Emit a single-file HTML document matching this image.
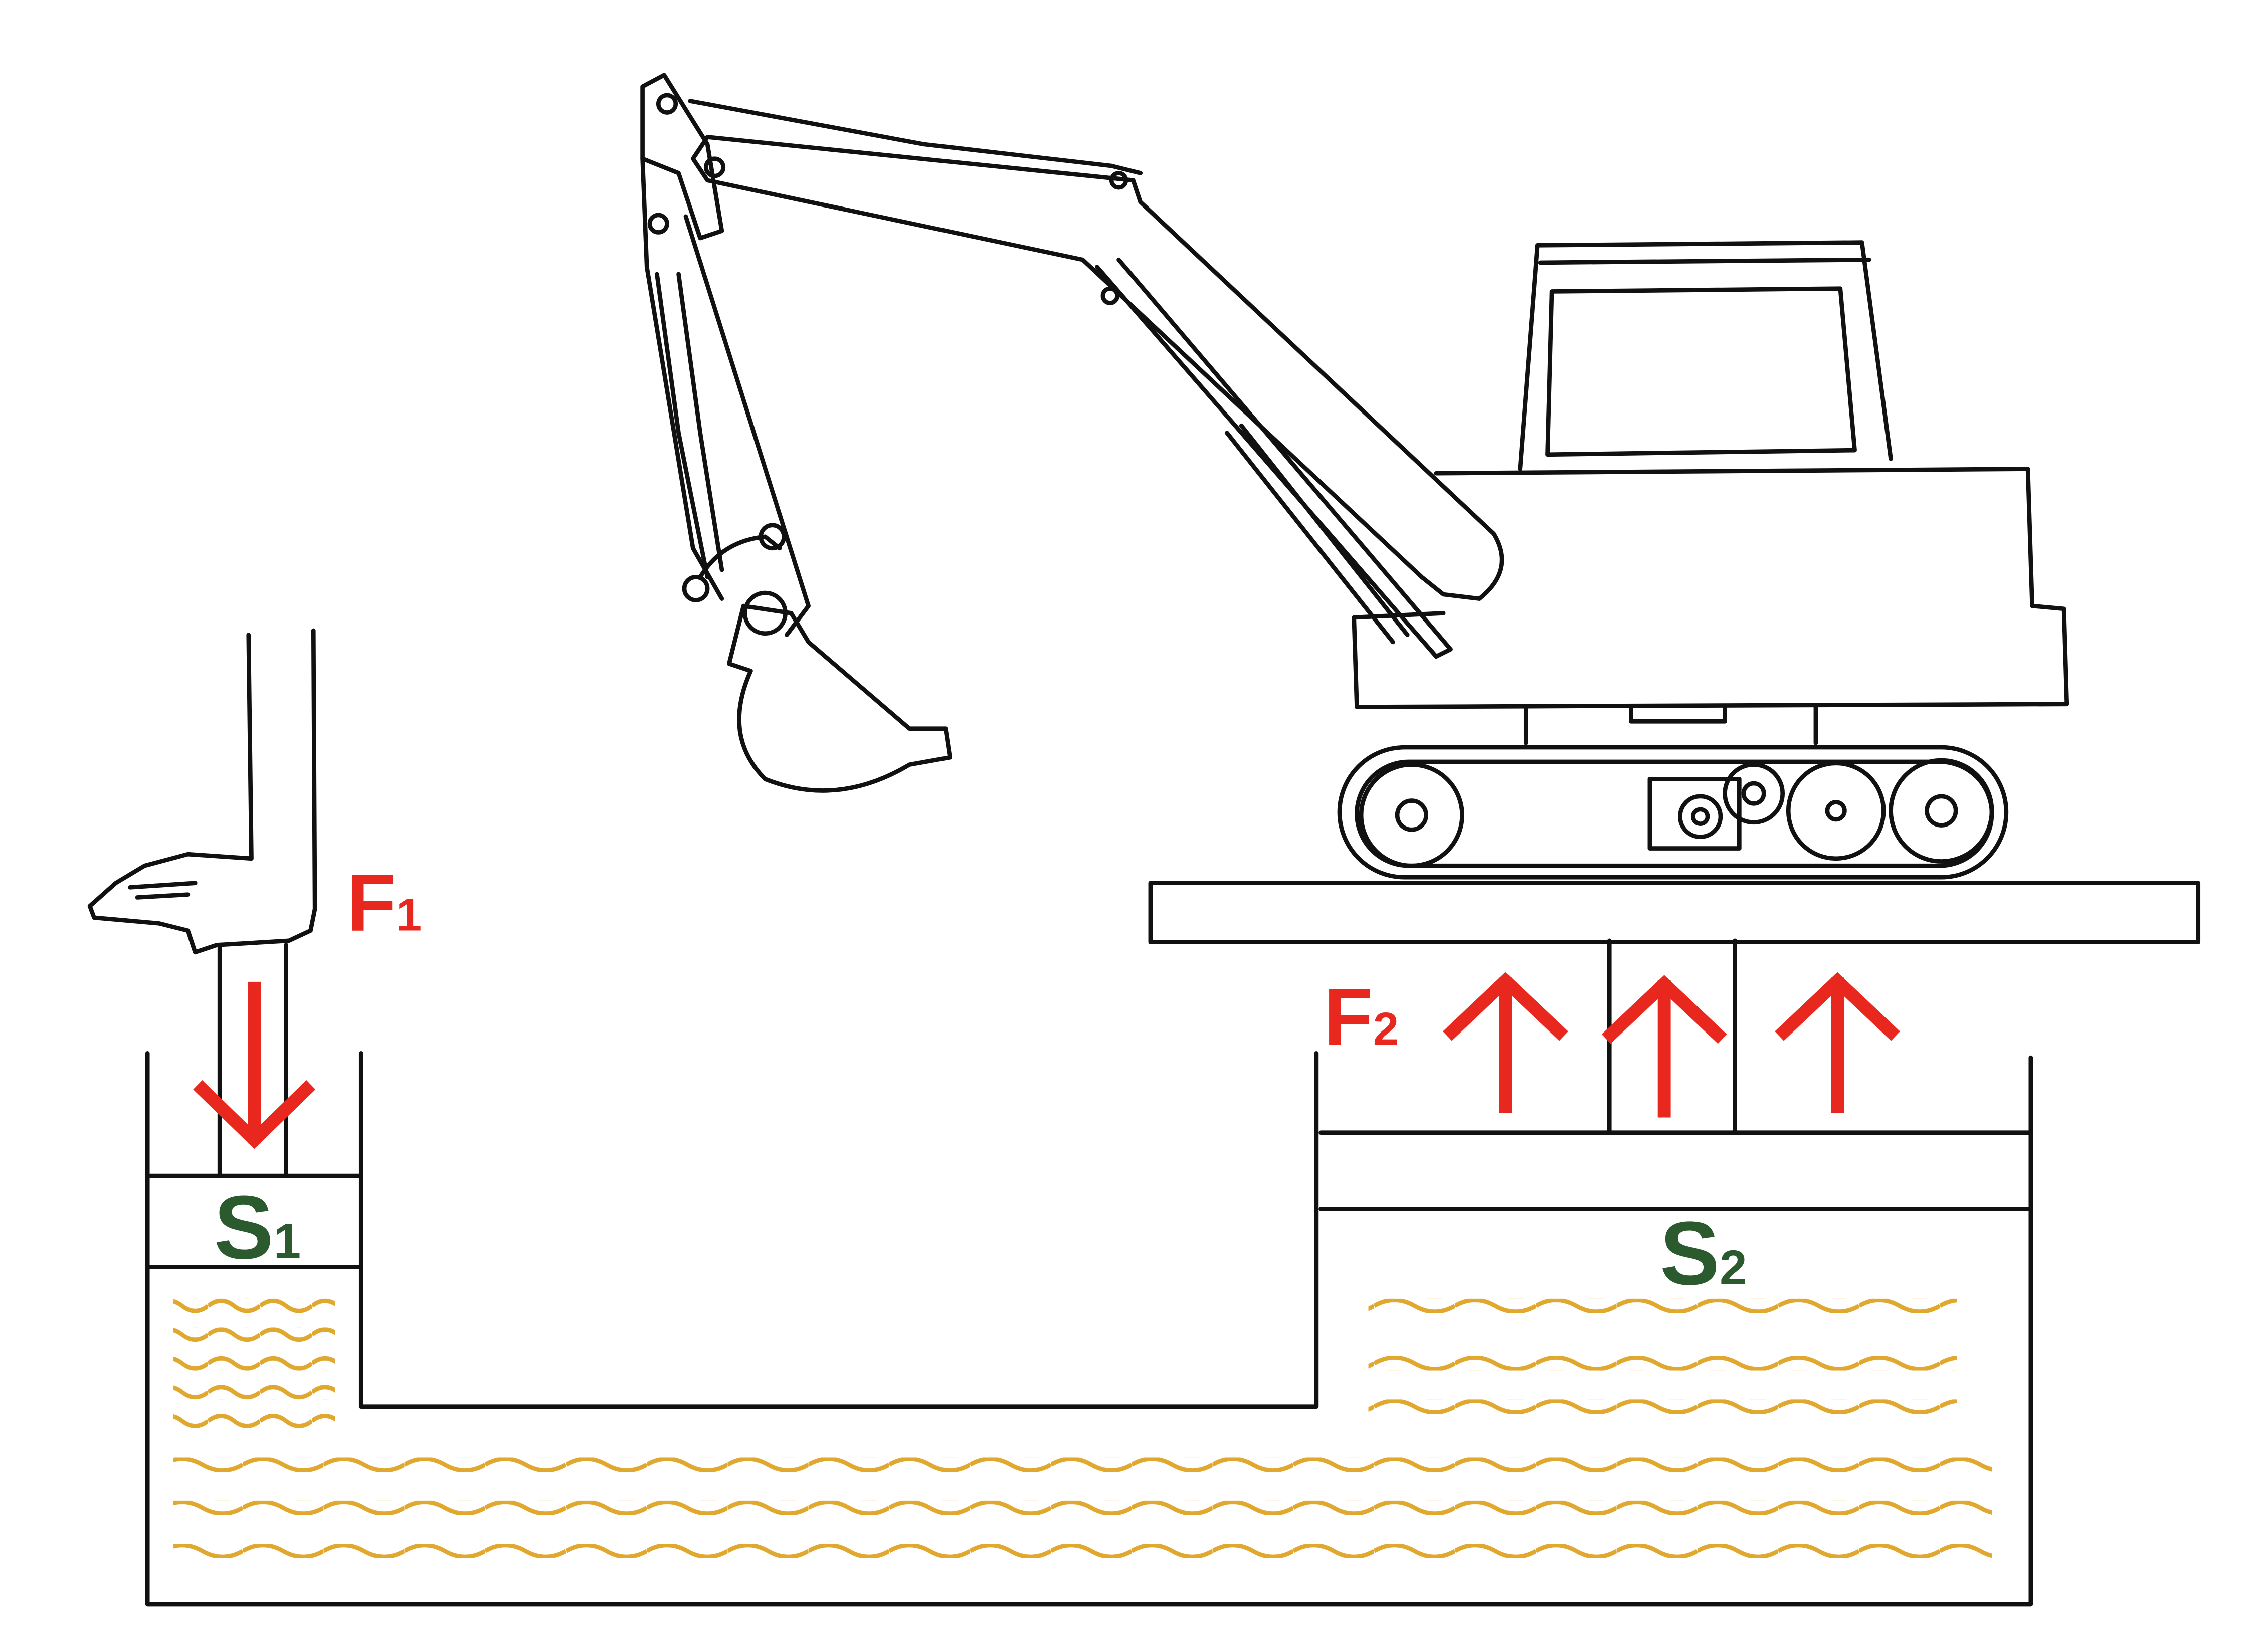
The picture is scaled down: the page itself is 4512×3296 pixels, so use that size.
<!DOCTYPE html>
<html><head><meta charset="utf-8"><style>
html,body{margin:0;padding:0;background:#fff;}
svg{display:block;}
text{font-family:"Liberation Sans",sans-serif;font-weight:bold;}
</style></head><body>
<svg width="4512" height="3296" viewBox="0 0 1567 1145" xmlns="http://www.w3.org/2000/svg">
<defs>
<pattern id="wv" x="0" y="0" width="56" height="10" patternUnits="userSpaceOnUse">
<path d="M0 5 Q14 -3 28 5 T56 5" fill="none" stroke="#e0a82e" stroke-width="3"/>
</pattern>
<pattern id="wvs" x="0" y="0" width="36" height="10" patternUnits="userSpaceOnUse">
<path d="M0 5 Q9 -2 18 5 T36 5" fill="none" stroke="#e0a82e" stroke-width="3"/>
</pattern>
</defs>
<rect width="1567" height="1145" fill="#fff"/>
<g fill="none" stroke="#111" stroke-width="3" stroke-linecap="round" stroke-linejoin="round">
<path d="M102 730 L102 1112 L1407 1112 L1407 733"/>
<path d="M250 730 L250 975 L912 975 L912 730"/>
<path d="M102 815 L250 815 M102 878 L250 878"/>
<path d="M152 655 L152 815 M198 655 L198 815"/>
<path d="M172 440 L174 595 L130 592 L100 600 L80 612 L62 628 L65 636 L110 640 L130 645 L135 660 L150 655 L200 652 L215 645 L218 630 L217 437"/>
<path d="M90 615 L135 612 M95 622 L130 620"/>
<path d="M915 785 L1407 785 M915 838 L1407 838"/>
<path d="M1115 652 L1115 785 M1202 652 L1202 785"/>
<rect x="797" y="612" width="726" height="41"/>
<path d="M1053 325 L1065 170 L1290 168 L1310 318"/>
<path d="M1067 182 L1295 180"/>
<path d="M1075 202 L1275 200 L1285 312 L1072 315 Z"/>
<path d="M995 328 L1405 325 L1408 420 L1430 422 L1432 488 L940 490 L938 428 L1000 425"/>
<path d="M1057 490 L1057 515 M1258 490 L1258 515 M1130 490 L1130 500 L1195 500 L1195 490"/>
<rect x="928" y="518" width="462" height="90" rx="45"/>
<rect x="940" y="528" width="440" height="72" rx="36"/>
<circle cx="978" cy="565" r="35"/><circle cx="978" cy="565" r="10"/>
<circle cx="1272" cy="562" r="33"/><circle cx="1272" cy="562" r="6"/>
<circle cx="1345" cy="562" r="35"/><circle cx="1345" cy="562" r="10"/>
<circle cx="1215" cy="550" r="20"/><circle cx="1215" cy="550" r="7"/>
<rect x="1143" y="540" width="62" height="48"/>
<circle cx="1178" cy="566" r="14"/><circle cx="1178" cy="566" r="5"/>
<path d="M1000 412 L1025 415 Q1050 395 1035 370 L790 140 L785 125 L490 95 L480 110 L490 125 L750 180 L985 400 Z"/>
<path d="M760 185 L995 455 L1005 450 L775 180"/>
<path d="M850 300 L965 445 M860 295 L975 440"/>
<circle cx="769" cy="205" r="5"/><circle cx="775" cy="125" r="5"/>
<path d="M478 70 L640 100 L770 115 L790 120"/>
<path d="M445 60 L460 52 L490 100 L500 160 L485 165 L470 120 L445 110 Z"/>
<path d="M445 110 L448 185 L480 380 L500 415 M475 150 L560 420 L545 440"/>
<path d="M455 190 L470 300 L490 400 M470 190 L485 300 L500 395"/>
<circle cx="462" cy="72" r="6"/><circle cx="495" cy="116" r="6"/><circle cx="456" cy="155" r="6"/>
<path d="M485 400 Q500 375 530 372 L540 380"/><circle cx="482" cy="408" r="8"/><circle cx="535" cy="372" r="8"/>
<path d="M515 420 L505 460 L520 465 Q500 510 530 540 Q580 560 630 530 L658 525 L655 505 L630 505 L560 445 L548 425 Z"/>
<circle cx="530" cy="425" r="14"/>
</g>
<rect x="120" y="900" width="112" height="10" fill="url(#wvs)"/>
<rect x="120" y="920" width="112" height="10" fill="url(#wvs)"/>
<rect x="120" y="940" width="112" height="10" fill="url(#wvs)"/>
<rect x="120" y="960" width="112" height="10" fill="url(#wvs)"/>
<rect x="120" y="980" width="112" height="10" fill="url(#wvs)"/>
<rect x="948" y="900" width="408" height="10" fill="url(#wv)"/>
<rect x="948" y="940" width="408" height="10" fill="url(#wv)"/>
<rect x="948" y="970" width="408" height="10" fill="url(#wv)"/>
<rect x="120" y="1010" width="1260" height="10" fill="url(#wv)"/>
<rect x="120" y="1040" width="1260" height="10" fill="url(#wv)"/>
<rect x="120" y="1070" width="1260" height="10" fill="url(#wv)"/>
<g fill="none" stroke="#e8281e" stroke-width="9" stroke-linecap="square">
<path d="M176 685 L176 788 M140 755 L176 790 L212 755"/>
<path d="M1043 767 L1043 682 M1006 715 L1043 680 L1080 715"/>
<path d="M1153 770 L1153 684 M1116 717 L1153 682 L1190 717"/>
<path d="M1273 767 L1273 682 M1236 715 L1273 680 L1310 715"/>
</g>
<text x="240" y="645" font-size="56" fill="#e8281e">F<tspan font-size="32">1</tspan></text>
<text x="917" y="724" font-size="56" fill="#e8281e">F<tspan font-size="32">2</tspan></text>
<text x="148" y="872" font-size="62" fill="#2a5a2e">S<tspan font-size="34">1</tspan></text>
<text x="1150" y="890" font-size="62" fill="#2a5a2e">S<tspan font-size="34">2</tspan></text>
</svg>
</body></html>
